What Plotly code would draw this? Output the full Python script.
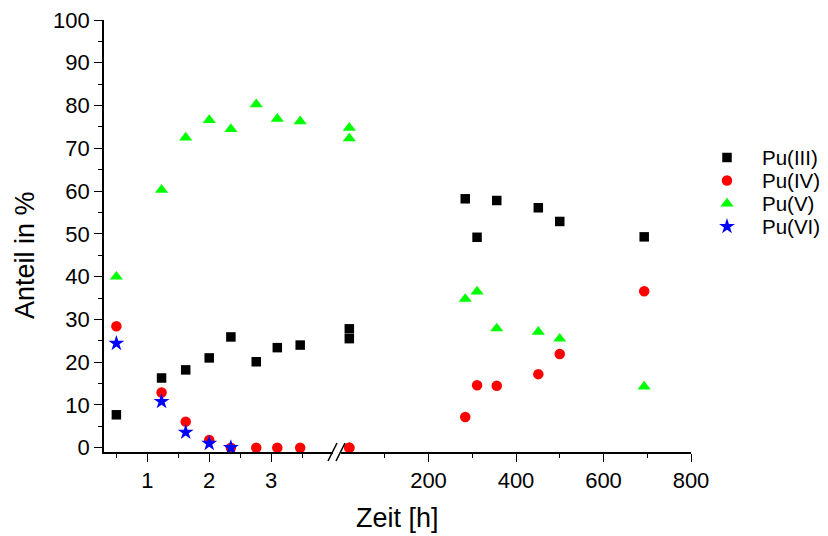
import plotly.graph_objects as go

# --- data -------------------------------------------------------------
# early sampling times (h), shown on the left axis segment
t_short = [0.5, 1.23, 1.62, 2.0, 2.35, 2.76, 3.1, 3.47]
# later sampling times (h), shown on the right axis segment
t_long = [19, 19, 284, 311, 356, 451, 500, 693]

pu3_short = [7.7, 16.3, 18.2, 21.0, 25.9, 20.1, 23.4, 24.0]
pu4_short = [28.4, 12.9, 6.1, 1.8, 0.0, 0.0, 0.0, 0.0]
pu5_short = [40.0, 60.3, 72.5, 76.6, 74.5, 80.3, 76.9, 76.3]
pu6_short = [24.4, 10.8, 3.6, 1.0, 0.0]

pu3_long = [27.8, 25.5, 58.2, 49.2, 57.8, 56.1, 52.9, 49.3]
pu4_long = [0.0, 0.0, 7.2, 14.6, 14.5, 17.2, 21.9, 36.6]
pu5_long = [72.3, 74.8, 34.8, 36.5, 27.9, 27.1, 25.5, 14.3]

names = ["Pu(III)", "Pu(IV)", "Pu(V)", "Pu(VI)"]

short_ticks = [1, 2, 3]
short_minor = [0.5, 1.5, 2.5, 3.5]
long_ticks = [200, 400, 600, 800]
long_minor = [100, 300, 500, 700]

# --- layout geometry (pixels) -----------------------------------------
W, H = 828, 536
L, R, T, B = 104, 0, 20, 84
PW, PH = W - L - R, H - T - B
AXIS_END = 691          # right end of the long-time segment
BREAK_L, BREAK_R = 333, 341
KEY_TOP, KEY_ROW = 146, 23


def px(x):
    return (x - L) / PW


def py(y):
    return (H - B - y) / PH


FONT = "Liberation Sans, Arial, sans-serif"

styles = {
    "Pu(III)": dict(symbol="square", color="#000000", size=9.5),
    "Pu(IV)": dict(symbol="circle", color="#FF0000", size=10.5),
    "Pu(V)": dict(symbol="triangle-up", color="#00FF00", size=11.5),
    "Pu(VI)": dict(symbol="star", color="#0000FF", size=12),
}

series = {
    "Pu(III)": (pu3_short, pu3_long),
    "Pu(IV)": (pu4_short, pu4_long),
    "Pu(V)": (pu5_short, pu5_long),
    "Pu(VI)": (pu6_short, None),
}


def marker_of(name):
    s = styles[name]
    return dict(symbol=s["symbol"], color=s["color"], size=s["size"],
                line=dict(width=0))


fig = go.Figure()
for name in names:
    y_short, y_long = series[name]
    fig.add_trace(go.Scatter(
        x=t_short[:len(y_short)], y=y_short, mode="markers", name=name,
        marker=marker_of(name), xaxis="x", yaxis="y", showlegend=False,
    ))
    if y_long is not None:
        fig.add_trace(go.Scatter(
            x=t_long, y=y_long, mode="markers", name=name,
            marker=marker_of(name), xaxis="x2", yaxis="y", showlegend=False,
        ))

# compact key: one symbol per row on a hidden axis pair, labels as annotations
for i, name in enumerate(names):
    fig.add_trace(go.Scatter(
        x=[0], y=[i], mode="markers", name=name, marker=marker_of(name),
        xaxis="x3", yaxis="y2", showlegend=False, hoverinfo="skip",
    ))
    fig.add_annotation(
        text=name, xref="paper", yref="y2", x=px(760), y=i,
        xanchor="left", yanchor="middle", showarrow=False,
        font=dict(family=FONT, size=20.5, color="black"),
    )

axis_common = dict(
    showline=True, linecolor="black", linewidth=1.6, mirror=False,
    showgrid=False, zeroline=False, ticks="outside", ticklen=8,
    tickwidth=1.4, tickcolor="black", automargin=False,
    tickfont=dict(family=FONT, size=22, color="black"),
)

n_rows = len(names)
fig.update_layout(
    width=W, height=H,
    margin=dict(l=L, r=R, t=T, b=B, pad=0, autoexpand=False),
    paper_bgcolor="white", plot_bgcolor="white",
    showlegend=False,
    xaxis=dict(
        domain=[0, px(BREAK_L)], range=[0.3, 4.0], anchor="y",
        tickmode="array", tickvals=short_ticks,
        minor=dict(tickmode="array", tickvals=short_minor, ticklen=4,
                   tickwidth=1.4, tickcolor="black", ticks="outside"),
        **axis_common,
    ),
    xaxis2=dict(
        domain=[px(BREAK_R), px(AXIS_END)], range=[0, 800], anchor="y",
        tickmode="array", tickvals=long_ticks,
        minor=dict(tickmode="array", tickvals=long_minor, ticklen=4,
                   tickwidth=1.4, tickcolor="black", ticks="outside"),
        **axis_common,
    ),
    yaxis=dict(
        range=[-1, 100], anchor="x",
        tickmode="linear", tick0=0, dtick=10,
        minor=dict(dtick=5, ticklen=4, tickwidth=1.4, tickcolor="black",
                   ticks="outside"),
        **axis_common,
    ),
    xaxis3=dict(domain=[px(717), px(737)], range=[-1, 1], anchor="y2",
                visible=False, fixedrange=True, automargin=False),
    yaxis2=dict(domain=[py(KEY_TOP + n_rows * KEY_ROW), py(KEY_TOP)],
                range=[n_rows - 0.5, -0.5], anchor="x3",
                visible=False, fixedrange=True, automargin=False),
)

# axis-break marks "//"
for x0 in (328, 336):
    fig.add_shape(type="line", xref="paper", yref="paper",
                  x0=px(x0), y0=py(461), x1=px(x0 + 9), y1=py(443),
                  line=dict(color="black", width=1.6))

# axis titles
fig.add_annotation(
    text="Zeit [h]", xref="paper", yref="paper", x=px((L + AXIS_END) / 2),
    y=py(518), xanchor="center", yanchor="middle", showarrow=False,
    font=dict(family=FONT, size=27, color="black"),
)
fig.add_annotation(
    text="Anteil in %", xref="paper", yref="paper", x=px(25), y=py(255),
    xanchor="center", yanchor="middle", textangle=-90, showarrow=False,
    font=dict(family=FONT, size=27, color="black"),
)

fig.write_html("out.html")
